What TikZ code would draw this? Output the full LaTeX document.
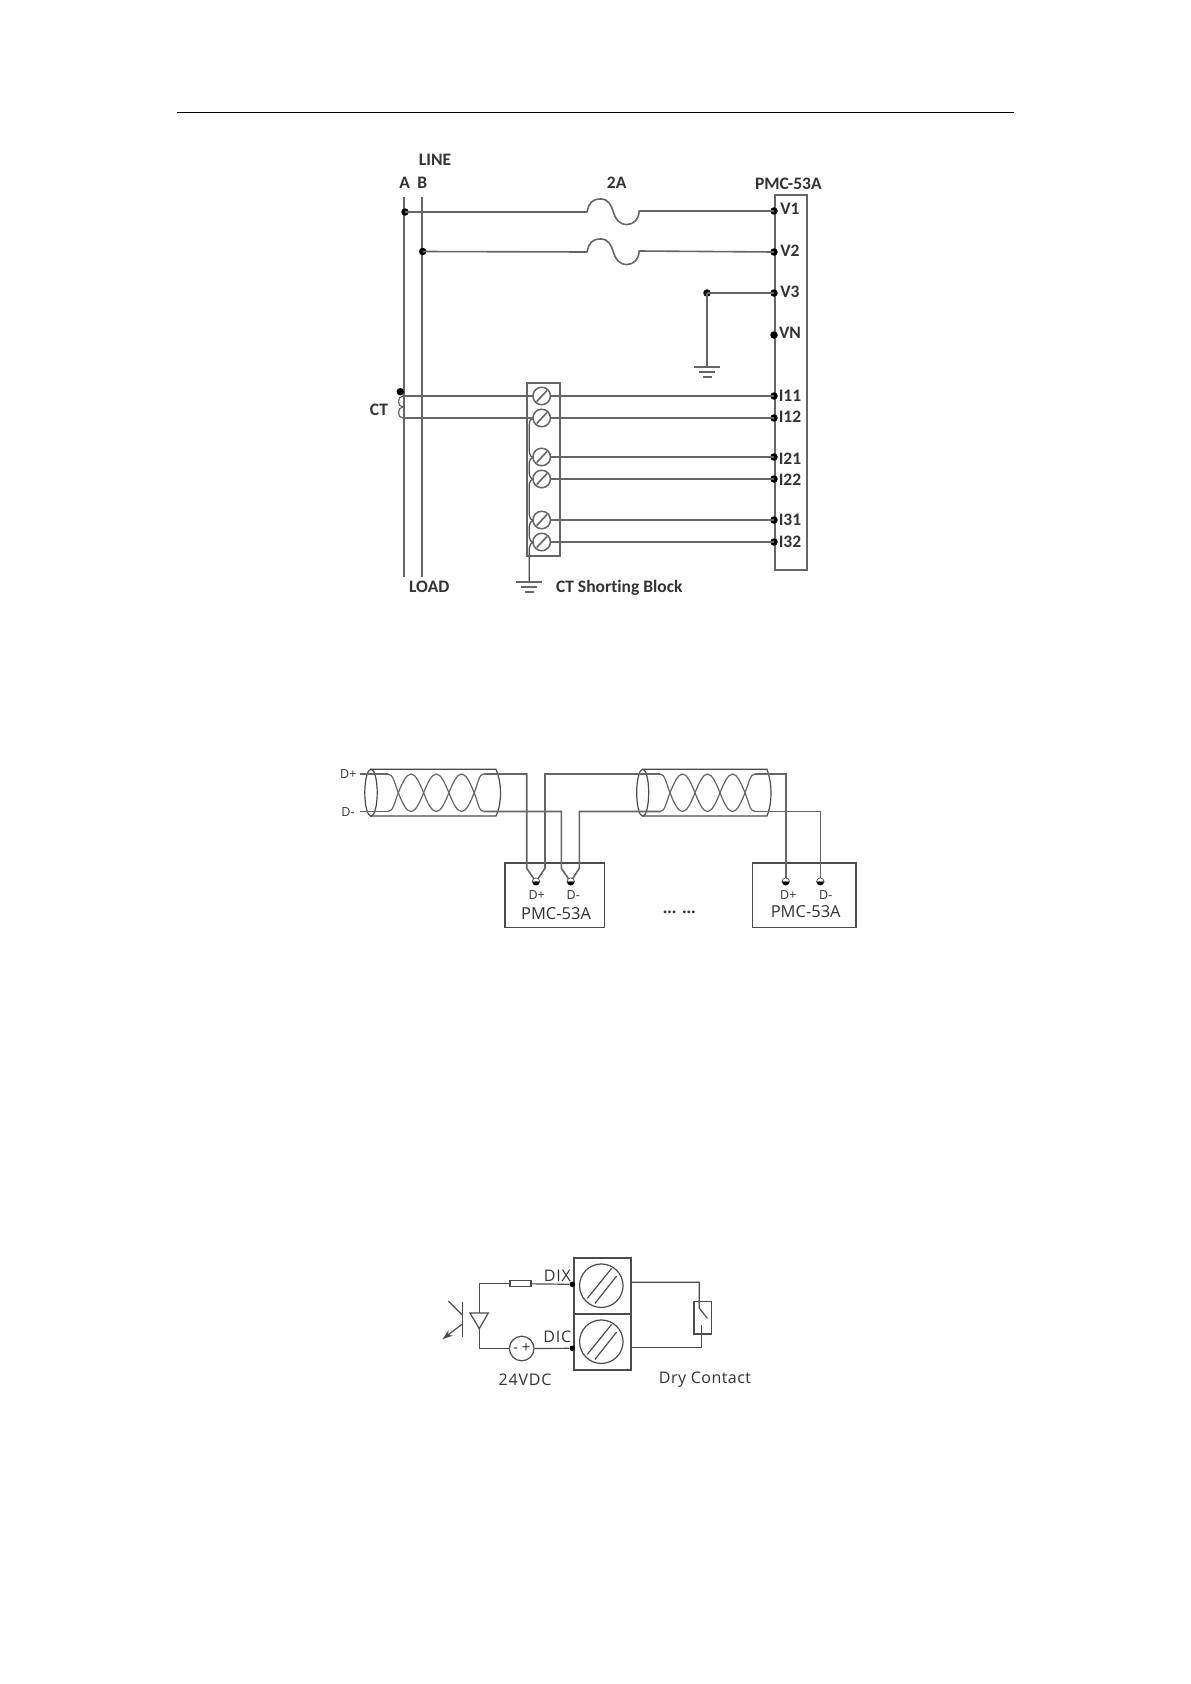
\documentclass[tikz,border=0pt]{standalone}
\usepackage{fontspec}
\setmainfont[Ligatures=NoCommon]{Carlito}
\newfontfamily\thinsans{Open Sans}
\usetikzlibrary{arrows.meta}
\definecolor{wire}{gray}{0.4}
\definecolor{wireb}{gray}{0.3}
\definecolor{ink}{gray}{0.2}
\tikzset{
  wr/.style={draw=wire,line width=1.6pt},
  wrk/.style={draw=wireb,line width=1.2pt},
  pt/.style={circle,fill=black,draw=none,inner sep=0pt,minimum size=7.5pt},
  ptb/.style={circle,fill=black,draw=none,inner sep=0pt,minimum size=5.5pt},
  lbl/.style={font=\fontsize{17.5}{17.5}\selectfont\bfseries,text=ink,inner sep=0pt},
  lbs/.style={font=\thinsans\fontsize{12.5}{12.5}\selectfont,text=ink,inner sep=0pt},
  lbm/.style={font=\thinsans\fontsize{16.5}{16.5}\selectfont,text=ink,inner sep=0pt},
  lbt/.style={font=\thinsans\fontsize{16}{16}\selectfont,text=ink,inner sep=0pt},
  screw/.style={circle,draw=wire,line width=1.5pt,fill=white,minimum size=17.5pt,inner sep=0pt},
  bigscrew/.style={circle,draw=wireb,line width=1.2pt,minimum size=43.5pt,inner sep=0pt},
  boxx/.style={draw=wire,line width=1.5pt,inner sep=0pt},
}
\newcommand{\fuse}[2]{%
  (#1,#2) .. controls (#1+1,#2-9) and (#1+5,#2-13) .. (#1+13.5,#2-13)
  .. controls (#1+21,#2-13) and (#1+24,#2-7) .. (#1+26,#2)
  .. controls (#1+28,#2+7) and (#1+32,#2+12.5) .. (#1+39.5,#2+12.5)
  .. controls (#1+46,#2+12.5) and (#1+51,#2+8) .. (#1+52,#2-1)}
\newcommand{\groundsym}[2]{%
  \draw[wr] (#1-13,#2) -- (#1+13,#2);
  \draw[wr] (#1-8,#2+5) -- (#1+8,#2+5);
  \draw[wr] (#1-4.5,#2+10) -- (#1+4.5,#2+10);}
\newcommand{\pair}[4]{% xstart, cross1, pitch, xend
  \draw[wr,line width=1.2pt] (#1,774) .. controls (#2-5,774) and (#2-4,783) .. (#2,792.7)
   .. controls (#2+4,803) and (#2+8,811.5) .. (#2+#3/2,811.5)
   .. controls (#2+#3-8,811.5) and (#2+#3-4,803) .. (#2+#3,792.7)
   .. controls (#2+#3+4,783) and (#2+#3+8,774) .. (#2+1.5*#3,774)
   .. controls (#2+2*#3-8,774) and (#2+2*#3-4,783) .. (#2+2*#3,792.7)
   .. controls (#2+2*#3+4,803) and (#2+2*#3+8,811.5) .. (#2+2.5*#3,811.5)
   .. controls (#2+3*#3-8,811.5) and (#2+3*#3-4,803) .. (#2+3*#3,792.7)
   .. controls (#2+3*#3+4,783) and (#2+3*#3+5,774) .. (#4,774);
  \draw[wr,line width=1.2pt] (#1,811.5) .. controls (#2-5,811.5) and (#2-4,803) .. (#2,792.7)
   .. controls (#2+4,783) and (#2+8,774) .. (#2+#3/2,774)
   .. controls (#2+#3-8,774) and (#2+#3-4,783) .. (#2+#3,792.7)
   .. controls (#2+#3+4,803) and (#2+#3+8,811.5) .. (#2+1.5*#3,811.5)
   .. controls (#2+2*#3-8,811.5) and (#2+2*#3-4,803) .. (#2+2*#3,792.7)
   .. controls (#2+2*#3+4,783) and (#2+2*#3+8,774) .. (#2+2.5*#3,774)
   .. controls (#2+3*#3-8,774) and (#2+3*#3-4,783) .. (#2+3*#3,792.7)
   .. controls (#2+3*#3+4,803) and (#2+3*#3+5,811.5) .. (#4,811.5);}
\newcommand{\halfdot}[2]{%
  \fill[black] (#1,#2) ++(-3.8,0) arc[start angle=180,end angle=0,radius=3.8] -- cycle;
  \draw[wireb,line width=0.7pt,fill=white] (#1,#2) ++(3.8,0) arc[start angle=0,end angle=-180,radius=3.8] -- cycle;}
\begin{document}
\begin{tikzpicture}[x=1pt,y=-1pt]
\useasboundingbox[fill=white] (0,0) rectangle (1191,1684);
% header rule
\coordinate (ruleL) at (176.7,112.7);
\coordinate (ruleR) at (1013.5,112.7);
\draw[black,line width=1.2pt] (ruleL) -- (ruleR);

%% ---------- Diagram 1 ----------
\draw[wr] (404,197) -- (404,577);
\draw[wr] (422,197) -- (422,577);
\node[boxx,minimum width=32pt,minimum height=375pt,anchor=north west] (pmc) at (774,194) {};
\node[boxx,minimum width=33pt,minimum height=173pt,anchor=north west] (block) at (526,382) {};
% labels
\node[lbl] (line) at (435,160) {LINE};
\node[lbl] (la) at (404.7,183) {A};
\node[lbl] (lb) at (422.3,183) {B};
\node[lbl] (l2a) at (616.7,183) {2A};
\node[lbl] (lpmc) at (788.3,184) {PMC-53A};
\node[lbl] (lct) at (379,410) {CT};
\node[lbl] (lload) at (429.3,587) {LOAD};
\node[lbl] (lsb) at (619.3,587.5) {CT Shorting Block};
% terminals
\foreach \nm/\y in {V1/211,V2/252,V3/293,VN/335,I11/396,I12/418,I21/457,I22/479,I31/520,I32/542}{
  \node[pt] (t\nm) at (774,\y) {};
}
\foreach \nm/\y in {V1/209,V2/250.7,V3/291.7,VN/333.3,I11/395.7,I12/416.7,I21/458.3,I22/479.3,I31/520.3,I32/541.7}{
  \node[lbl,anchor=center] at (790,\y) {\nm};
}
\node[pt] (dA) at (405,212) {};
\node[pt] (dB) at (422.7,251.5) {};
\draw[wr] (dA.center) -- (587.3,212) \fuse{587.3}{212} -- (tV1.center);
\draw[wr] (dB.center) -- (587.3,252) \fuse{587.3}{252} -- (tV2.center);
\node[pt] (dG) at (707,293) {};
\draw[wr] (dG.center) -- (tV3.center);
\coordinate (g1) at (707,367);
\draw[wr] (dG.center) -- (g1);
\groundsym{707}{367}
% shorting wire
\coordinate (g2) at (529.3,582);
\draw[wrk] (532.5,418.5) .. controls (530,420) and (529.3,421) .. (529.3,424)
  -- (529.3,452) .. controls (529.3,455) and (531,457) .. (533,457.5)
  .. controls (531,458) and (529.3,460) .. (529.3,462)
  -- (529.3,474) .. controls (529.3,477) and (531,478.5) .. (533,479)
  .. controls (531,480) and (529.3,481) .. (529.3,484)
  -- (529.3,515) .. controls (529.3,518) and (531,520) .. (533,520.5)
  .. controls (531,521) and (529.3,523) .. (529.3,526)
  -- (529.3,537) .. controls (529.3,540) and (531,542) .. (533,542.5)
  .. controls (531,543) and (529.3,545) .. (529.3,548) -- (g2);
\groundsym{529.3}{582}
% CT
\node[pt] (dC) at (400.3,391.7) {};
\draw[wr] (403,396) -- (tI11.center);
\draw[wr] (403,418) -- (tI12.center);
\draw[wr,line width=1.2pt] (403,396) .. controls (397,396) and (397,407) .. (403,407)
  .. controls (397,407) and (397,418) .. (403,418);
\draw[wr] (541.7,457) -- (tI21.center);
\draw[wr] (541.7,479) -- (tI22.center);
\draw[wr] (541.7,520) -- (tI31.center);
\draw[wr] (541.7,542) -- (tI32.center);
\foreach \nm/\y in {a/396,b/418,c/457,d/479,e/520,f/542}{
  \node[screw] (s\nm) at (541.7,\y) {};
  \draw[wr] (536.7,\y+5.5) -- (547,\y-5.5);
}

%% ---------- Diagram 2 ----------
\node[boxx,draw=wireb,line width=1.2pt,minimum width=99.4pt,minimum height=64.7pt,anchor=north west] (box1) at (504.3,862.3) {};
\node[boxx,draw=wireb,line width=1.2pt,minimum width=103.6pt,minimum height=64.7pt,anchor=north west] (box2) at (751.7,862.3) {};
% cable 1
\draw[wireb,line width=1.2pt] (370,769.3) -- (496,769.3) .. controls (499.5,778) and (500.5,785) .. (500.5,792.7) .. controls (500.5,801) and (499.5,808) .. (496,816) -- (370,816);
\draw[wireb,line width=1.2pt] (371,792.7) ellipse [x radius=6.2,y radius=23.5];
% cable 2
\draw[wireb,line width=1.2pt] (643,769.3) -- (767,769.3) .. controls (770,778) and (771,785) .. (771,792.7) .. controls (771,801) and (770,808) .. (767,816) -- (643,816);
\draw[wireb,line width=1.2pt] (642.7,792.7) ellipse [x radius=6,y radius=23.5];
% twisted pairs
\pair{388}{398.3}{25.3}{483.3}
\pair{660}{670}{25}{755}
% wires
\coordinate (s1) at (360,774);
\coordinate (s2) at (360,811.5);
\coordinate (e1) at (483.3,774);
\coordinate (e2) at (483.3,811.5);
\coordinate (e3) at (755,774);
\coordinate (e4) at (755,811.5);
\coordinate (c1) at (660,774);
\coordinate (c2) at (660,811.5);
\coordinate (h1) at (536,881.7);
\coordinate (h2) at (570.7,881.7);
\coordinate (h3) at (785.7,881.7);
\coordinate (h4) at (820.3,881.7);
\draw[wr] (s1) -- (388,774);
\draw[wr] (s2) -- (388,811.5);
\draw[wr] (e1) -- (526.7,774) -- (526.7,868.3) -- (h1);
\draw[wr] (h1) -- (545,868.3) -- (545,774) -- (c1);
\draw[wr] (e2) -- (561.3,811.5) -- (561.3,868.3) -- (h2);
\draw[wr] (h2) -- (579.3,868.3) -- (579.3,811.5) -- (c2);
\draw[wr] (e3) -- (785.7,774) -- (h3);
\draw[wr] (e4) -- (820.3,811.5) -- (h4);
\foreach \x in {536,570.7,785.7,820.3}{\halfdot{\x}{881.7}}
\node[lbs] (dp) at (348.3,774) {D+};
\node[lbs] (dm) at (348,812) {D-};
\node[lbs] (b1p) at (536.7,895) {D+};
\node[lbs] (b1m) at (573.3,895) {D-};
\node[lbs] (b2p) at (788.3,895) {D+};
\node[lbs] (b2m) at (825.7,895) {D-};
\node[lbm] (n1) at (556,914) {PMC-53A};
\node[lbm] (n2) at (805.7,911.7) {PMC-53A};
\node[font=\thinsans\bfseries\fontsize{16}{16}\selectfont,text=ink,inner sep=0pt] (dots) at (679.3,912) {... ...};

%% ---------- Diagram 3 ----------
\node[boxx,draw=wireb,line width=1.2pt,minimum width=57pt,minimum height=56pt,anchor=north west] (tb1) at (573.3,1257.3) {};
\node[boxx,draw=wireb,line width=1.2pt,minimum width=57pt,minimum height=56pt,anchor=north west] (tb2) at (573.3,1313.3) {};
\foreach \nm/\y in {u/1285.7,v/1341.7}{
  \node[bigscrew] (sc\nm) at (601.3,\y) {};
  \draw[wireb,line width=1.2pt] (587.3,\y+12.7) -- (611.6,\y-17.3);
  \draw[wireb,line width=1.2pt] (595,\y+17.7) -- (616.6,\y-9.7);
}
\node[ptb] (dix) at (572.3,1284.3) {};
\node[ptb] (dic) at (572.3,1348.3) {};
\node[boxx,draw=wireb,line width=1.2pt,minimum width=21pt,minimum height=6pt] (res) at (520.5,1283.7) {};
\coordinate (cor1) at (479.3,1283.7);
\coordinate (tri) at (479.3,1313);
\coordinate (apex) at (479.3,1328.7);
\coordinate (cor2) at (479.3,1348.5);
\draw[wrk] (dix) -- (res);
\draw[wrk] (res) -- (cor1) -- (tri);
\draw[wrk,line join=miter] (470,1313) -- (488.3,1313) -- (apex) -- cycle;
\draw[wrk] (apex) -- (cor2);
\node[circle,draw=wireb,line width=1.2pt,minimum size=24.6pt,inner sep=0pt] (bat) at (521.7,1348.5) {};
\node[font=\thinsans\fontsize{15}{15}\selectfont,text=ink,inner sep=0pt] at (521.7,1348) {- +};
\draw[wrk] (cor2) -- (bat);
\draw[wrk] (bat) -- (dic);
% transistor
\draw[wrk] (462.3,1301.7) -- (462.3,1337.3);
\draw[wrk] (448.3,1301) -- (462.3,1315);
\draw[wrk,-{Stealth[length=10pt,width=7pt]}] (462.3,1324) -- (442.7,1339);
% dry contact
\node[boxx,draw=wireb,line width=1.2pt,minimum width=17.7pt,minimum height=32.6pt,anchor=north west] (sw) at (693.3,1300.7) {};
\coordinate (r1) at (630.3,1282.3);
\coordinate (r2) at (699.3,1282.3);
\coordinate (r3) at (701.7,1347.5);
\coordinate (r4) at (630.3,1347.5);
\draw[wrk] (r1) -- (r2) -- (699.3,1308) -- (707.3,1318.3);
\draw[wrk] (701.7,1325) -- (r3) -- (r4);
\node[lbt] (ldix) at (557.3,1276) {\addfontfeatures{LetterSpace=5}DIX};
\node[lbt] (ldic) at (557.3,1336.3) {\addfontfeatures{LetterSpace=5}DIC};
\node[lbt] (l24) at (525,1380) {\addfontfeatures{LetterSpace=5}24VDC};
\node[lbt] (ldry) at (705,1380) {\addfontfeatures{LetterSpace=3}Dry Contact};
\end{tikzpicture}
\end{document}
